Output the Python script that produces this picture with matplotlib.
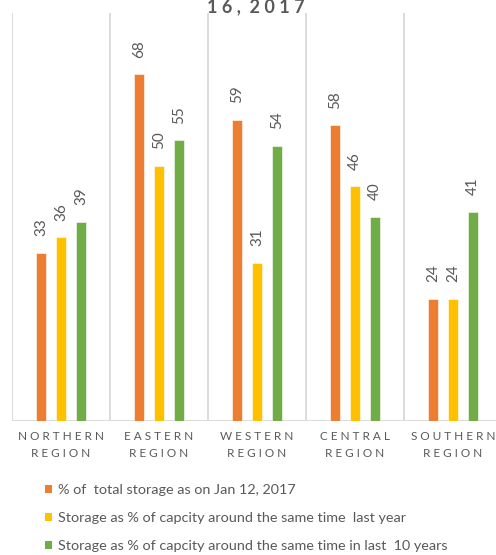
import matplotlib.pyplot as plt
from matplotlib.patches import Patch
import numpy as np

# Reservoir storage by region (%)
regions = ["NORTHERN\nREGION", "EASTERN\nREGION", "WESTERN\nREGION",
           "CENTRAL\nREGION", "SOUTHERN\nREGION"]
current = [33, 68, 59, 58, 24]
last_year = [36, 50, 31, 46, 24]
last_10_years = [39, 55, 54, 40, 41]

series_names = [
    "% of  total storage as on Jan 12, 2017",
    "Storage as % of capcity around the same time  last year",
    "Storage as % of capcity around the same time in last  10 years",
]
colors = ["#ED7D31", "#FFC000", "#70AD47"]

TEXT = "#595959"
GRID = "#D9D9D9"

plt.rcParams['font.family'] = ['Lato', 'DejaVu Sans']


def spaced(s):
    # spread the letters out like the category labels
    return "\n".join(" ".join(line) for line in s.split("\n"))


fig = plt.figure(figsize=(4.96, 5.55), dpi=100)
ax = fig.add_axes([12 / 496, 134 / 555, 490 / 496, 408 / 555])

x = np.arange(len(regions))
width = 0.102
offsets = [-0.204, 0, 0.204]
for vals, off, col in zip([current, last_year, last_10_years], offsets, colors):
    bars = ax.bar(x + off, vals, width, color=col, edgecolor="white", linewidth=0.4, zorder=3)
    for b, v in zip(bars, vals):
        ax.annotate(str(v), (b.get_x() + b.get_width() / 2, v), xytext=(0, 12),
                    textcoords="offset points", rotation=90, ha="center", va="bottom",
                    fontsize=11, color=TEXT)

# category separators
for b in np.arange(-0.5, len(regions) + 0.5, 1):
    ax.axvline(b, color=GRID, linewidth=1.3, zorder=1)
ax.axhline(0, color=GRID, linewidth=1.3, zorder=2)

ax.set_xlim(-0.5, len(regions) - 0.5)
ax.set_ylim(0, 80)
ax.set_yticks([])
ax.set_xticks(x)
ax.set_xticklabels([spaced(r) for r in regions], fontsize=8.5, color=TEXT, linespacing=1.75)
ax.tick_params(axis="x", length=0, pad=7)
for s in ax.spines.values():
    s.set_visible(False)

fig.text(256 / 496, 1 - 7 / 555, "1 6 ,  2 0 1 7", ha="center", va="center",
         fontsize=13, fontweight="bold", color=TEXT)

handles = [Patch(facecolor=c, edgecolor="none") for c in colors]
fig.legend(handles, series_names, loc="upper left", bbox_to_anchor=(45 / 496, 1 - 484 / 555),
           frameon=False, fontsize=10.4, labelcolor=TEXT, handlelength=0.5, handleheight=0.5,
           handletextpad=0.4, labelspacing=1.1, borderpad=0, borderaxespad=0)

fig.savefig("out.png", dpi=100)
